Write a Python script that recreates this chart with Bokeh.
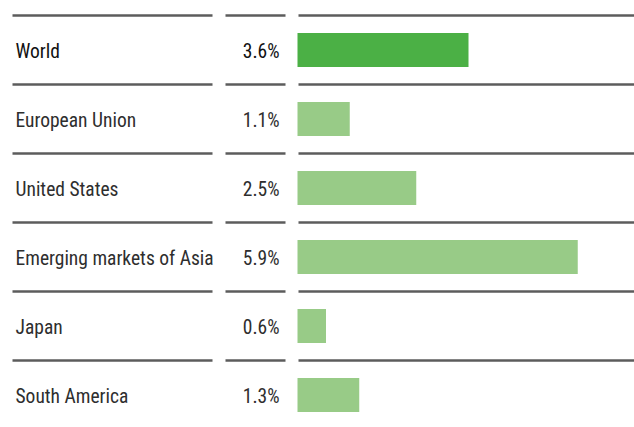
from bokeh.plotting import figure
from bokeh.models import Range1d
from bokeh.core.properties import value
from bokeh.embed import file_html
from bokeh.resources import INLINE

# ---- data ----
regions = ["World", "European Union", "United States", "Emerging markets of Asia", "Japan", "South America"]
growth = [3.6, 1.1, 2.5, 5.9, 0.6, 1.3]
growth_labels = ["3.6%", "1.1%", "2.5%", "5.9%", "0.6%", "1.3%"]

# ---- layout constants (pixels) ----
W, H = 634, 427
BAR_X0 = 297.0        # pixel where 0% sits
PX_PER_PCT = 47.5
TOP = 15.0
ROW = 69.0
BAR_H = 34.0
FONT = "Roboto Condensed"
FS = "19.5px"

def px(x):
    return (x - BAR_X0) / PX_PER_PCT

p = figure(width=W, height=H, output_backend="svg", toolbar_location=None,
           x_range=Range1d(px(0), px(W)), y_range=Range1d(H, 0),
           min_border=0, min_border_left=0, min_border_right=0,
           min_border_top=0, min_border_bottom=0)
p.axis.visible = False
p.grid.visible = False
p.outline_line_color = None
p.background_fill_color = "white"
p.border_fill_color = "white"

n = len(regions)
centers = [TOP + ROW * i + ROW / 2 + 1 for i in range(n)]
colors = ["#4bb045"] + ["#98cb87"] * (n - 1)

# separator lines
ys = [TOP + ROW * i for i in range(n)]
for (a, b) in [(12, 212), (225, 285), (298, W)]:
    p.segment(x0=[px(a)] * n, x1=[px(b)] * n, y0=ys, y1=ys,
              line_color="#5c5c5c", line_width=2.6)

# bars
bar_centers = [TOP + ROW * i + ROW / 2 for i in range(n)]
p.hbar(y=bar_centers, left=0, right=growth, height=BAR_H,
       fill_color=colors, line_color=None)

# texts
text_colors = ["#111111"] + ["#2e2e2e"] * (n - 1)
p.text(x=[px(15)] * n, y=centers, text=regions,
       text_font=value(FONT), text_font_size=FS,
       text_color=text_colors, text_align="left", text_baseline="middle")
p.text(x=[px(279)] * n, y=centers, text=growth_labels,
       text_font=value(FONT), text_font_size=FS,
       text_color=text_colors, text_align="right", text_baseline="middle")

open("out.html", "w").write(file_html(p, INLINE))
